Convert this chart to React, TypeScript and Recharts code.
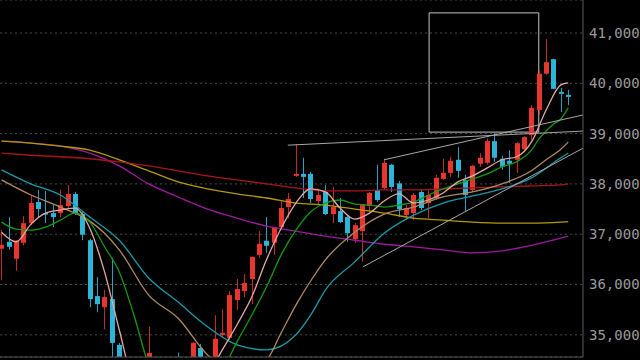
import {
  ComposedChart,
  Bar,
  Line,
  XAxis,
  YAxis,
  CartesianGrid,
  ReferenceLine,
  ReferenceArea,
} from "recharts";

// daily candles, oldest first (prices in yen)
const opens = [
  36710, 36850, 36510, 36830, 37220, 37640, 37420, 37420, 37420, 37560,
  37800, 37400, 36880, 35770, 35550, 35710, 34800, 34300, 34000, 33800,
  34100, 34500, 34200, 34000, 34400, 34150, 34350, 34740, 34400, 34450,
  35000, 34940, 35690, 35870, 36110, 36590, 36870, 36830, 37140, 37540,
  38160, 38200, 38200, 37660, 37840, 37400, 37460, 37340, 36900, 37060,
  37560, 37880, 37920, 38380, 38010, 37380, 37420, 37840, 37620, 37720,
  38100, 38220, 38480, 38080, 37880, 38400, 38420, 38850, 38500, 38460,
  38480, 38690, 38970, 39470, 40190, 40480, 39830, 39770,
];
const highs = [
  37080, 37340, 36880, 37360, 37780, 37880, 37860, 37580, 37880, 37980,
  37840, 37440, 36910, 36150, 35890, 36530, 34840, 34400, 34200, 34100,
  35160, 34520, 34300, 34350, 34640, 34450, 34850, 34820, 34540, 35390,
  35510, 35870, 36110, 36210, 36550, 37060, 37340, 37140, 37680, 37820,
  38790, 38520, 38240, 37880, 37980, 37940, 37720, 37380, 37220, 37600,
  37840, 38380, 38500, 38400, 38060, 37580, 37820, 37900, 37880, 38180,
  38500, 38540, 38730, 38180, 38380, 38610, 38910, 39010, 38560, 38670,
  38830, 38950, 39570, 40260, 40880, 40490, 39910, 39870,
];
const lows = [
  36090, 36690, 36270, 36770, 37180, 37340, 37220, 37140, 37340, 37520,
  37380, 36880, 35550, 35450, 35110, 34560, 34200, 33900, 33700, 33600,
  34000, 34000, 33900, 33900, 34000, 34050, 34250, 34300, 34300, 34400,
  34960, 34900, 35490, 35750, 35610, 36530, 36630, 36590, 37120, 37320,
  38140, 37720, 37620, 37580, 37380, 37220, 37220, 36850, 36830, 36450,
  37440, 37640, 37880, 37840, 37340, 37300, 37280, 37480, 37320, 37680,
  38080, 38140, 38120, 37440, 37840, 38340, 38380, 38440, 38280, 38020,
  38220, 38650, 38870, 39370, 40170, 39880, 39430, 39570,
];
const closes = [
  36790, 36750, 36870, 37220, 37620, 37500, 37400, 37340, 37580, 37800,
  37420, 36990, 35710, 35610, 35750, 34840, 34300, 34000, 33800, 33900,
  34640, 34200, 34000, 34200, 34150, 34300, 34840, 34400, 34500, 34920,
  35040, 35790, 35910, 36030, 36550, 36810, 36770, 37140, 37520, 37700,
  38200, 38140, 37700, 37780, 37400, 37540, 37240, 37020, 37180, 37580,
  37820, 37680, 38420, 37940, 37500, 37520, 37780, 37520, 37780, 38120,
  38220, 38460, 38260, 37780, 38360, 38520, 38850, 38520, 38340, 38400,
  38810, 38930, 39510, 40190, 40420, 39890, 39790, 39730,
];

// moving averages: [candle index, price]
const maShort: [number, number][] = [
  [0, 37040], [2, 36850], [4, 37200], [6, 37420], [8, 37480], [10, 37520],
  [12, 37120], [14, 36250], [16, 35100], [18, 34000], [20, 33700], [22, 33600],
  [24, 33700], [26, 34000], [28, 34200], [30, 34700], [32, 35200], [34, 35750],
  [36, 36490], [38, 37120], [40, 37620], [42, 37900], [44, 37840], [46, 37520],
  [48, 37300], [50, 37420], [52, 37660], [54, 37800], [56, 37620], [58, 37680],
  [60, 37820], [62, 38040], [64, 38160], [66, 38320], [68, 38480], [70, 38540],
  [72, 38830], [74, 39470], [76, 39970], [77, 40010],
];
const maMid: [number, number][] = [
  [0, 37240], [2, 37100], [4, 37080], [6, 37140], [8, 37280], [10, 37420],
  [12, 37240], [14, 36750], [16, 36250], [18, 35390], [20, 34400], [22, 33900],
  [24, 33700], [26, 33800], [28, 34000], [30, 34300], [32, 34860], [34, 35390],
  [36, 35950], [38, 36590], [40, 37080], [42, 37440], [44, 37620], [46, 37680],
  [48, 37600], [50, 37580], [52, 37540], [54, 37580], [56, 37640], [58, 37780],
  [60, 37900], [62, 38000], [64, 38100], [66, 38200], [68, 38340], [70, 38440],
  [72, 38670], [73, 38890], [74, 39050], [75, 39190], [76, 39290], [77, 39510],
];
const ma25: [number, number][] = [
  [0, 38080], [4, 37780], [8, 37540], [12, 37260], [14, 37020], [16, 36690],
  [20, 35790], [24, 35330], [28, 34600], [32, 34260], [36, 34500], [38, 35040],
  [40, 35590], [42, 36070], [44, 36490], [48, 37040], [52, 37400], [56, 37540],
  [60, 37740], [64, 37840], [68, 38000], [72, 38260], [74, 38480], [76, 38690],
  [77, 38830],
];
const ma50: [number, number][] = [
  [0, 38280], [4, 38000], [8, 37780], [12, 37340], [16, 36880], [20, 36130],
  [24, 35650], [28, 35160], [32, 34800], [36, 34700], [40, 35000], [42, 35390],
  [44, 35890], [48, 36450], [52, 37020], [56, 37380], [60, 37620], [64, 37760],
  [68, 37900], [72, 38120], [76, 38520], [77, 38610],
];
const ma75: [number, number][] = [
  [0, 38610], [4, 38570], [8, 38540], [12, 38500], [16, 38440], [20, 38360],
  [24, 38260], [28, 38160], [32, 38080], [36, 38000], [40, 37920], [44, 37860],
  [48, 37860], [52, 37880], [56, 37880], [60, 37900], [64, 37920], [68, 37940],
  [72, 37960], [76, 37980], [77, 38000],
];
const ma100: [number, number][] = [
  [0, 38850], [4, 38810], [8, 38750], [12, 38670], [16, 38480], [20, 38260],
  [24, 38040], [28, 37900], [32, 37800], [36, 37720], [40, 37620], [44, 37580],
  [48, 37500], [52, 37420], [56, 37320], [60, 37280], [64, 37240], [68, 37220],
  [72, 37220], [76, 37240], [77, 37250],
];
const ma200: [number, number][] = [
  [0, 38850], [4, 38810], [8, 38750], [12, 38610], [16, 38360], [20, 38000],
  [24, 37740], [28, 37500], [32, 37320], [36, 37160], [40, 37060], [44, 36960],
  [48, 36880], [52, 36800], [56, 36750], [60, 36690], [64, 36630], [68, 36670],
  [72, 36780], [76, 36920], [77, 36960],
];

// hand drawn objects
const trendA: [number, number][] = [[38.9, 38770], [79, 39050]];
const trendB: [number, number][] = [[52, 38480], [79, 39370]];
const trendC: [number, number][] = [[49.1, 36350], [79, 38710]];
const boxX = [58.1, 73];
const boxY = [39030, 41400];

const priceTicks = [35000, 36000, 37000, 38000, 39000, 40000, 41000];
const monthTicks = [34, 75.2];

const UP = "#e8352f";
const DOWN = "#2db4d6";

const pick = (pts: [number, number][], i: number) => {
  const p = pts.find((q) => q[0] === i);
  return p ? p[1] : null;
};

const rows = opens.map((o, i) => ({
  i,
  o,
  h: highs[i],
  l: lows[i],
  c: closes[i],
  s: pick(maShort, i),
  m: pick(maMid, i),
  m25: pick(ma25, i),
  m50: pick(ma50, i),
  m75: pick(ma75, i),
  m100: pick(ma100, i),
  m200: pick(ma200, i),
}));

function Candle(props: any) {
  const { x, y, width, height, payload } = props;
  if (x == null || y == null || !payload) return null;
  const { o, h, l, c } = payload;
  const k = height / (h - l || 1);
  const py = (v: number) => y + (h - v) * k;
  const cx = Math.round(x + width / 2) + 0.5;
  const up = c >= o;
  const top = py(Math.max(o, c));
  const bot = py(Math.min(o, c));
  return (
    <g>
      <line x1={cx} x2={cx} y1={y} y2={y + height} stroke={up ? "#c42a26" : "#2a9fc0"} strokeWidth={1} />
      <rect x={cx - 2.5} y={top} width={5} height={Math.max(1.5, bot - top)} fill={up ? UP : DOWN} />
    </g>
  );
}

const seg = (t: [number, number][]) => t.map(([x, y]) => ({ x, y }));

const maLines = [
  { key: "m200", color: "#9c1c9c" },
  { key: "m100", color: "#b39a06" },
  { key: "m75", color: "#a8161a" },
  { key: "m50", color: "#1b9aa8" },
  { key: "m25", color: "#b08a62" },
  { key: "m", color: "#139a13" },
  { key: "s", color: "#e2aaa6" },
];

export default function App() {
  return (
    <div style={{ position: "absolute", left: 0, top: 0, width: 640, height: 360, background: "#000" }}>
      <ComposedChart width={640} height={360} data={rows} margin={{ top: 0, right: 0, bottom: 0, left: 0 }}>
        <CartesianGrid vertical={false} stroke="#4a4a4a" strokeDasharray="2 3" />
        <XAxis
          type="number"
          dataKey="i"
          domain={[-0.204, 79.01]}
          allowDataOverflow
          ticks={monthTicks}
          tick={false}
          tickSize={3}
          height={3}
          axisLine={{ stroke: "#555" }}
          tickLine={{ stroke: "#777" }}
        />
        <YAxis
          orientation="right"
          width={57}
          domain={[34559, 41656]}
          allowDataOverflow
          ticks={priceTicks}
          interval={0}
          tickLine={false}
          tickMargin={0}
          axisLine={{ stroke: "#5a5a5a" }}
          tick={{ fill: "#9c9c9c", fontSize: 14, fontFamily: "DejaVu Sans Mono" }}
          tickFormatter={(v: number) => v.toLocaleString("en-US")}
        />
        <Bar dataKey={(d: any) => [d.l, d.h]} barSize={5} shape={Candle} isAnimationActive={false} />
        {maLines.map((ln) => (
          <Line
            key={ln.key}
            dataKey={ln.key}
            type="monotone"
            stroke={ln.color}
            strokeWidth={1.3}
            dot={false}
            activeDot={false}
            connectNulls
            isAnimationActive={false}
          />
        ))}
        <ReferenceLine segment={seg(trendA)} stroke="#a8a8a8" strokeWidth={1} ifOverflow="visible" />
        <ReferenceLine segment={seg(trendB)} stroke="#a8a8a8" strokeWidth={1} ifOverflow="visible" />
        <ReferenceLine segment={seg(trendC)} stroke="#a8a8a8" strokeWidth={1} ifOverflow="visible" />
        <ReferenceArea
          x1={boxX[0]}
          x2={boxX[1]}
          y1={boxY[0]}
          y2={boxY[1]}
          fill="none"
          fillOpacity={0}
          stroke="#c4c4c4"
          strokeWidth={1}
          ifOverflow="visible"
        />
      </ComposedChart>
    </div>
  );
}
